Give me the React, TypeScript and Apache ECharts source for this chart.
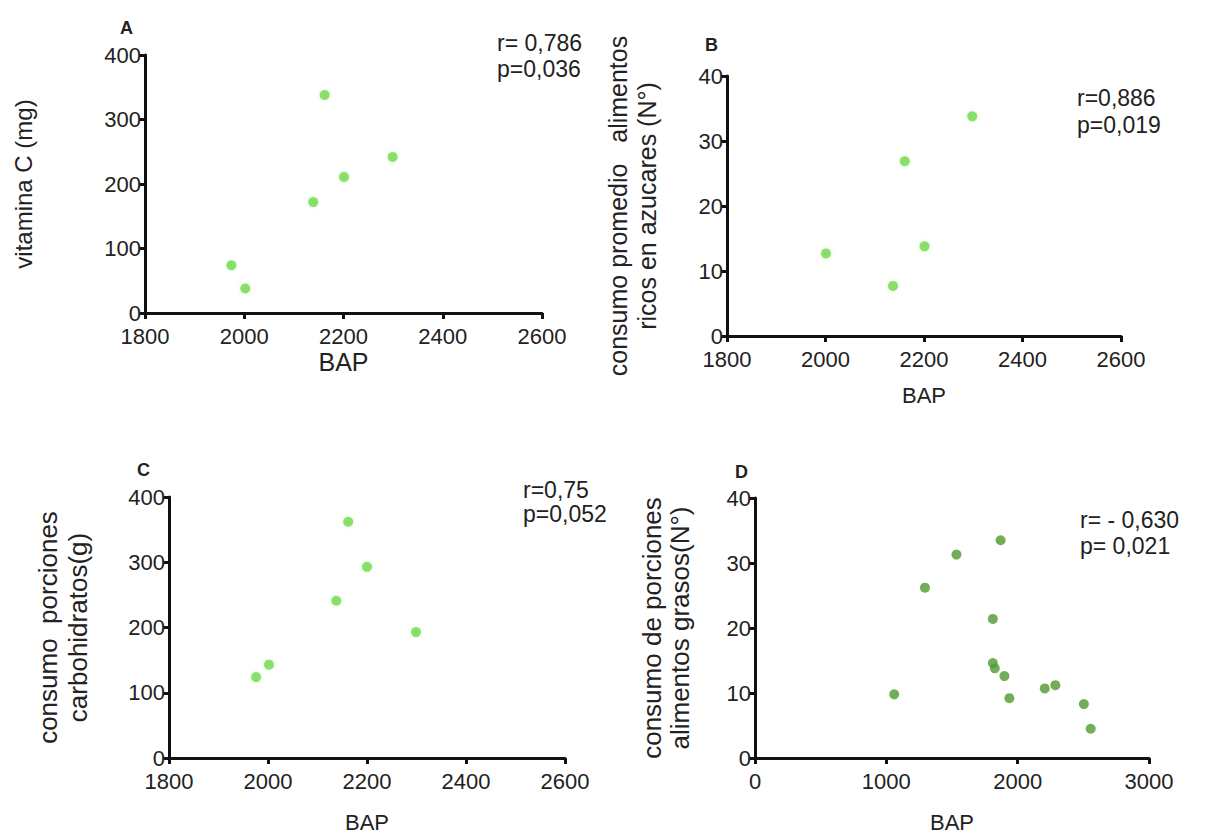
import React, { useEffect, useRef } from "react";
import * as echarts from "echarts";

// Panel A: vitamina C vs BAP
const bapA = [1974, 2002, 2139, 2162, 2201, 2299];
const vitC = [74, 38, 172, 338, 211, 242];
// Panel B: alimentos ricos en azucares vs BAP
const bapB = [2001, 2137, 2161, 2201, 2298];
const azucares = [12.7, 7.7, 26.9, 13.8, 33.8];
// Panel C: carbohidratos vs BAP
const bapC = [1976, 2002, 2138, 2162, 2200, 2299];
const carbo = [124, 143, 241, 362, 293, 193];
// Panel D: alimentos grasos vs BAP
const bapD = [1060, 1294, 1534, 1870, 1811, 1811, 1826, 1899, 1937, 2206, 2287, 2504, 2556];
const grasos = [9.8, 26.2, 31.3, 33.5, 21.4, 14.6, 13.8, 12.6, 9.2, 10.7, 11.2, 8.3, 4.5];

const FONT = "'Liberation Sans', Arial, sans-serif";
const TXT = "#222";
const LIGHT = "#72d94c";
const DARK = "#4f9a30";
const TICK_SIZE = 22;

function zip(xs: number[], ys: number[]) {
  return xs.map((x, i) => [x, ys[i]]);
}

function xAxisCfg(idx: number, min: number, max: number, interval: number, nameSize: number, nameGap: number) {
  return {
    gridIndex: idx,
    type: "value",
    min,
    max,
    interval,
    name: "BAP",
    nameLocation: "middle",
    nameGap,
    nameTextStyle: { fontFamily: FONT, fontSize: nameSize, color: TXT, lineHeight: nameSize },
    splitLine: { show: false },
    axisLine: { onZero: false, lineStyle: { color: "#111", width: 3 } },
    axisTick: { show: true, length: 6, lineStyle: { color: "#111", width: 3 } },
    axisLabel: {
      fontFamily: FONT,
      fontSize: TICK_SIZE,
      lineHeight: 20,
      color: TXT,
      margin: 13,
      formatter: (v: number) => String(v),
    },
  };
}

function yAxisCfg(
  idx: number,
  max: number,
  interval: number,
  name: string,
  nameSize: number,
  lineH: number,
  nameGap: number
) {
  return {
    gridIndex: idx,
    type: "value",
    min: 0,
    max,
    interval,
    name,
    nameLocation: "middle",
    nameRotate: 90,
    nameGap,
    nameTextStyle: { fontFamily: FONT, fontSize: nameSize, color: TXT, lineHeight: lineH },
    splitLine: { show: false },
    axisLine: { onZero: false, lineStyle: { color: "#111", width: 3 } },
    axisTick: { show: true, length: 6, lineStyle: { color: "#111", width: 3 } },
    axisLabel: {
      fontFamily: FONT,
      fontSize: TICK_SIZE,
      lineHeight: 20,
      color: TXT,
      margin: 4,
      formatter: (v: number) => String(v),
    },
  };
}

function txt(x: number, y: number, text: string, size: number, bold = false) {
  return {
    type: "text",
    x,
    y,
    style: {
      text,
      fontFamily: FONT,
      fontSize: size,
      fontWeight: bold ? "bold" : "normal",
      fill: TXT,
      textVerticalAlign: "middle",
    },
  };
}

export default function App() {
  const ref = useRef<HTMLDivElement>(null);
  useEffect(() => {
    if (!ref.current) return;
    const chart = echarts.init(ref.current, undefined, { renderer: "svg" });
    const scatter = (idx: number, data: number[][], color: string) => ({
      type: "scatter",
      xAxisIndex: idx,
      yAxisIndex: idx,
      data,
      symbolSize: 10,
      itemStyle: { color, shadowBlur: 4, shadowColor: "rgba(120,220,80,0.35)" },
    });
    chart.setOption({
      animation: false,
      backgroundColor: "#fff",
      grid: [
        { left: 145, top: 55, width: 397, height: 258 },
        { left: 727, top: 76, width: 394, height: 260 },
        { left: 169, top: 497, width: 396, height: 261 },
        { left: 755, top: 498, width: 394, height: 262 },
      ],
      xAxis: [
        xAxisCfg(0, 1800, 2600, 200, 25, 36),
        xAxisCfg(1, 1800, 2600, 200, 22, 48),
        xAxisCfg(2, 1800, 2600, 200, 22, 53),
        xAxisCfg(3, 0, 3000, 1000, 22, 53),
      ],
      yAxis: [
        yAxisCfg(0, 400, 100, "vitamina C (mg)", 24, 26, 109),
        yAxisCfg(1, 40, 10, "consumo promedio   alimentos\nricos en azucares (N°)", 25, 29, 66),
        yAxisCfg(2, 400, 100, "consumo  porciones\ncarbohidratos(g)", 26, 30, 76),
        yAxisCfg(3, 40, 10, "consumo de porciones\nalimentos grasos(N°)", 26, 28, 61),
      ],
      series: [
        scatter(0, zip(bapA, vitC), LIGHT),
        scatter(1, zip(bapB, azucares), LIGHT),
        scatter(2, zip(bapC, carbo), LIGHT),
        { ...scatter(3, zip(bapD, grasos), DARK), itemStyle: { color: DARK } },
      ],
      graphic: [
        txt(120, 28, "A", 18, true),
        txt(705, 45, "B", 18, true),
        txt(137, 470, "C", 18, true),
        txt(735, 472, "D", 18, true),
        txt(497, 43, "r= 0,786", 23),
        txt(497, 69, "p=0,036", 23),
        txt(1077, 98, "r=0,886", 23),
        txt(1077, 125, "p=0,019", 23),
        txt(523, 490, "r=0,75", 23),
        txt(523, 514, "p=0,052", 23),
        txt(1080, 520, "r= - 0,630", 23),
        txt(1080, 546, "p= 0,021", 23),
      ],
    });
    return () => chart.dispose();
  }, []);
  return (
    <div
      ref={ref}
      style={{ position: "fixed", left: 0, top: 0, width: 1205, height: 834, background: "#fff" }}
    />
  );
}
